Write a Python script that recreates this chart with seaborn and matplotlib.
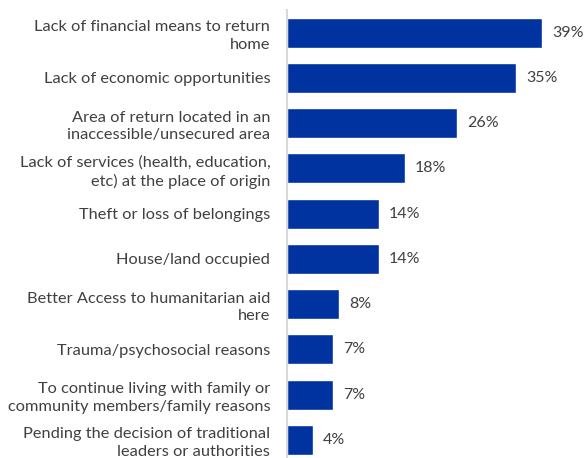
import matplotlib
matplotlib.use("Agg")
import matplotlib.pyplot as plt
import seaborn as sns
import pandas as pd

categories = [
    "Lack of financial means to return\nhome",
    "Lack of economic opportunities",
    "Area of return located in an\ninaccessible/unsecured area",
    "Lack of services (health, education,\netc) at the place of origin",
    "Theft or loss of belongings",
    "House/land occupied",
    "Better Access to humanitarian aid\nhere",
    "Trauma/psychosocial reasons",
    "To continue living with family or\ncommunity members/family reasons",
    "Pending the decision of traditional\nleaders or authorities",
]
values = [39, 35, 26, 18, 14, 14, 8, 7, 7, 4]

df = pd.DataFrame({"reason": categories, "pct": values})

sns.set_theme(style="white")
plt.rcParams["font.family"] = ["Lato", "DejaVu Sans"]

bar_color = "#0033A0"
text_color = "#404040"

fig = plt.figure(figsize=(5.84, 4.58), dpi=100)
ax = fig.add_axes([287 / 584, 0.0, 1 - 287 / 584, 1 - 10 / 458])

sns.barplot(data=df, x="pct", y="reason", color=bar_color, width=0.66,
            saturation=1, ax=ax, orient="h")

ax.set_xlim(0, 297 / 6.55)
ax.set_ylim(9.40, -0.5)

for i, v in enumerate(values):
    ax.text(v + 1.5, i, f"{v}%", va="center", ha="left",
            fontsize=11.5, color=text_color)

ax.set_xlabel("")
ax.set_ylabel("")
ax.set_xticks([])
ax.tick_params(axis="y", length=0, pad=12)
for lbl in ax.get_yticklabels():
    lbl.set_horizontalalignment("right")
    lbl.set_fontsize(11.8)
    lbl.set_color(text_color)
    lbl.set_linespacing(1.35)

for side in ["top", "right", "bottom"]:
    ax.spines[side].set_visible(False)
ax.spines["left"].set_color("#d9d9d9")
ax.spines["left"].set_linewidth(1.5)

fig.savefig("out.png", dpi=100)
